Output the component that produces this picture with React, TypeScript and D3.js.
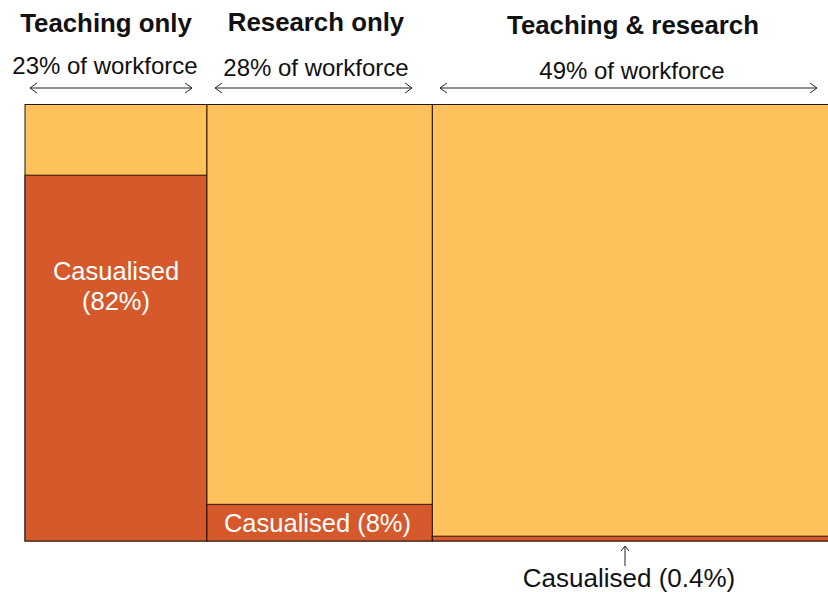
import React from "react";
import * as d3 from "d3";

const categories = ["Teaching only", "Research only", "Teaching & research"];
const workforceShare = [23, 28, 49];
const columnWidths = [23, 28.5, 50.6];
const casualisedLabel = ["82%", "8%", "0.4%"];
const casualisedHeight = [83.8, 8.4, 1.1];

const W = 828;
const H = 592;
const YELLOW = "#FEC15B";
const RED = "#D5592B";
const STROKE = "#2a1406";
const FONT = "'Liberation Sans', Arial, Helvetica, sans-serif";

function Arrow({ x1, x2, y }: { x1: number; x2: number; y: number }) {
  const h = 7;
  const v = 5;
  return (
    <g stroke="#222" strokeWidth={1} fill="none">
      <line x1={x1} x2={x2} y1={y} y2={y} />
      <path d={`M${x1 + h},${y - v}L${x1},${y}L${x1 + h},${y + v}`} />
      <path d={`M${x2 - h},${y - v}L${x2},${y}L${x2 - h},${y + v}`} />
    </g>
  );
}

export default function App() {
  const x = d3.scaleLinear().domain([0, 100]).range([25, 816]);
  const y = d3.scaleLinear().domain([0, 100]).range([541, 104.5]);
  const starts = columnWidths.map((_, i) => d3.sum(columnWidths.slice(0, i)));

  const titleX = [106, 316, 633];
  const titleY = [32, 30.5, 34];
  const shareX = [105, 316, 632];
  const shareY = [74, 75.5, 79];

  return (
    <svg width={W} height={H} style={{ position: "absolute", left: 0, top: 0 }} fontFamily={FONT}>
      <rect x={0} y={0} width={W} height={H} fill="#fff" />
      {categories.map((c, i) => {
        const x0 = x(starts[i]);
        const x1 = x(starts[i] + columnWidths[i]);
        return (
          <g key={c}>
            <rect x={x0} y={y(100)} width={x1 - x0} height={y(0) - y(100)} fill={YELLOW} stroke={STROKE} strokeWidth={1} />
            <rect x={x0} y={y(casualisedHeight[i])} width={x1 - x0} height={y(0) - y(casualisedHeight[i])} fill={RED} stroke={STROKE} strokeWidth={1} />
          </g>
        );
      })}
      {categories.map((c, i) => (
        <text key={"t" + i} x={titleX[i]} y={titleY[i]} textAnchor="middle" fontWeight="bold" fontSize={25.8} fill="#111">
          {c}
        </text>
      ))}
      {workforceShare.map((s, i) => (
        <text key={"s" + i} x={shareX[i]} y={shareY[i]} textAnchor="middle" fontSize={24} fill="#111">
          {`${s}% of workforce`}
        </text>
      ))}
      <Arrow x1={30} x2={192} y={88} />
      <Arrow x1={215} x2={412} y={88} />
      <Arrow x1={440} x2={817} y={88} />
      <text x={116} y={280} textAnchor="middle" fontSize={25.5} fill="#fff">Casualised</text>
      <text x={116} y={310} textAnchor="middle" fontSize={25.5} fill="#fff">{`(${casualisedLabel[0]})`}</text>
      <text x={317.5} y={532} textAnchor="middle" fontSize={25.5} fill="#fff">{`Casualised (${casualisedLabel[1]})`}</text>
      <g stroke="#222" strokeWidth={1} fill="none">
        <line x1={625} x2={625} y1={546} y2={566} />
        <path d="M621,551L625,546L629,551" />
      </g>
      <text x={629} y={587} textAnchor="middle" fontSize={26} fill="#111">{`Casualised (${casualisedLabel[2]})`}</text>
    </svg>
  );
}
